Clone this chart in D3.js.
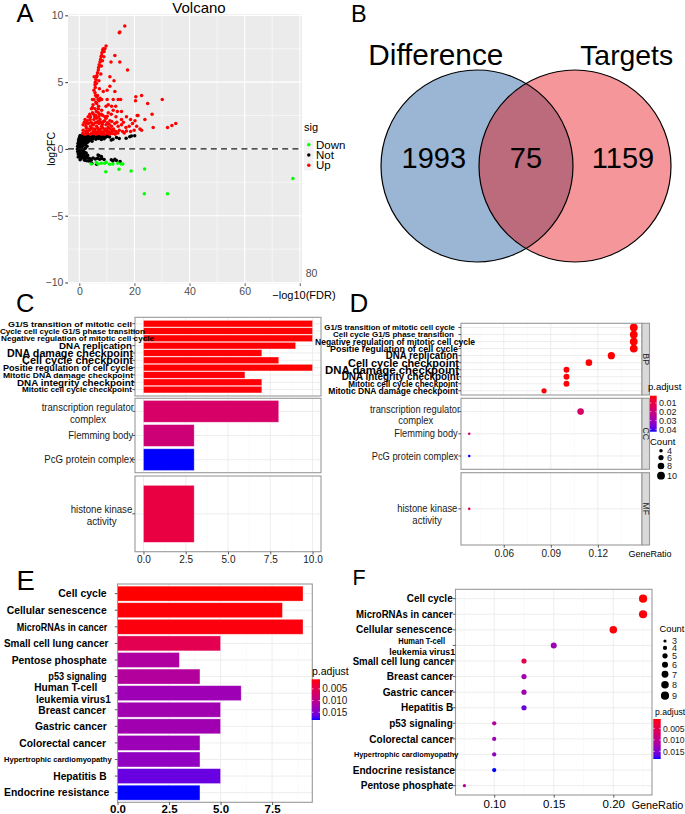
<!DOCTYPE html>
<html><head><meta charset="utf-8">
<script src="https://cdn.jsdelivr.net/npm/d3@7/dist/d3.min.js"></script>
<style>
html,body{margin:0;padding:0;background:#fff;}
svg{display:block;}
</style></head>
<body>
<svg id="fig" width="685" height="814" xmlns="http://www.w3.org/2000/svg"></svg>
<script>
// ================= DATA =================
// Panel A: volcano (x = -log10(FDR), y = log2FC)
const volcanoXTicks = [0, 20, 40, 60, 80];
const volcanoYTicks = [-10, -5, 0, 5, 10];
const sigLevels = ["Down", "Not", "Up"];
const volcanoUp = [
 [16.5,9.2],[14.5,8.7],[14.7,8.75],
 [9.7,7.7],[9.3,7.5],[8.7,7.5],[8.5,7.4],[8.2,7.2],[8.1,7.0],[7.9,6.9],[7.7,6.7],[7.5,6.5],[7.2,6.3],[7.0,6.1],[6.9,5.9],[6.6,5.7],[6.4,5.5],[6.3,5.4],[6.0,5.2],[5.8,5.0],[5.7,4.8],
 [12.9,7.0],[11.5,6.5],[14.7,6.5],[17.5,5.9],[11.1,5.4],[12.6,5.1],[5.4,5.4],[5.8,4.6],[5.3,4.4],[5.7,4.2],[6.3,3.9],
 [11.1,4.7],[10.1,4.4],[12.9,4.3],[8.7,4.3],[7.5,3.8],
 [4.8,3.7],[5.3,3.7],[6.3,3.4],[7.2,3.6],[8.1,3.7],[10.1,3.7],[12.3,3.7],[14.1,3.7],[15.0,3.7],
 [4.8,3.1],[5.7,3.0],[6.9,3.0],[8.1,2.9],[9.7,3.2],[10.5,3.3],[11.7,3.2],[13.2,3.2],
 [20.5,3.9],[22.6,4.0],[20.4,3.6],[24.8,3.4],[30.1,3.7],
 [4.8,2.7],[6.0,2.5],[6.9,2.7],[8.5,2.5],[9.3,2.4],[10.5,2.7],[12.3,2.9],[13.8,2.8],[15.3,2.8],
 [21.0,2.5],[26.4,2.6],[23.8,2.2],
 [2.1,2.2],[2.9,2.1],[3.9,2.2],[5.3,2.2],[6.3,2.3],[7.5,2.2],[9.7,2.3],[11.1,2.1],[13.3,2.4],[15.3,2.2],[17.1,2.4],[18.6,2.2],[20.2,2.1],
 [26.8,1.6],[32.0,1.6],[33.6,1.75],[35.0,1.9],
 [1.4,1.8],[2.4,1.7],[3.3,1.9],[4.1,1.7],[5.1,1.8],[6.3,1.7],[7.2,1.9],[8.1,1.7],[9.7,1.8],[10.5,1.6],[11.7,1.7],[12.9,1.9],[14.1,1.7],[15.3,1.8],[16.9,1.6],[18.1,1.7],[19.3,1.9],[20.8,1.7],[22.0,1.5],[22.6,1.4],
 [1.4,1.4],[2.4,1.3],[3.6,1.4],[4.5,1.2],[5.7,1.3],[6.9,1.4],[8.1,1.2],[9.3,1.35],[10.5,1.3],[12.1,1.4],[13.3,1.3],[14.5,1.4],[15.7,1.3],[17.1,1.35],[18.6,1.3],[19.9,1.4],
 [2.0,1.1],[3.0,1.15],[4.0,1.1],[5.0,1.15],[6.0,1.1],[7.0,1.15],[8.0,1.1],[9.0,1.1],[10.0,1.15],[11.0,1.1],[12.0,1.15],[13.0,1.1],[1.3,1.17],
 [2.6,1.55],[3.6,1.5],[4.6,1.55],[5.6,1.5],[6.6,1.55],[7.6,1.5],[8.6,1.55],[9.6,1.5],[11.2,1.5],[12.4,1.5],
 [1.8,2.0],[3.2,2.4],[4.2,2.0],[5.8,1.95],[6.8,2.05],[7.8,2.0],[8.8,2.05],[10.2,1.95],[11.8,2.05],
 [3.8,2.6],[4.4,3.0],[5.2,2.6],[6.2,2.8],[7.4,2.6],[5.0,3.3],[6.0,3.5],[7.0,3.2],[6.6,4.0],[7.3,4.5],[5.9,4.0],[6.8,3.7],
 [7.8,5.6],[8.0,6.2],[8.9,6.9],[9.0,7.3],[8.4,6.6],[6.2,4.9],[7.1,5.1],[21.3,2.5],
 [2.9,1.3],[4.0,1.45],[5.2,1.35],[6.4,1.25],[7.6,1.35],[8.8,1.3],[10.0,1.4],[11.4,1.25],[12.6,1.35],[14.0,1.2],[16.3,1.2],
 [2.5,1.9],[4.7,1.9],[6.5,2.0],[8.4,1.85],[9.2,2.1],[10.8,1.85],[13.6,2.0],[16.0,2.0],
 [4.1,2.4],[5.6,2.4],[7.1,2.4],[8.0,2.6],[10.1,2.45],[11.6,2.6]
];
const volcanoNot = [
 [0.3,1.0],[1.0,0.97],[1.5,0.9],[2.0,0.95],[2.5,0.88],[3.0,0.93],[3.5,0.97],[4.0,0.9],[4.5,0.95],[5.0,0.87],[5.5,0.93],[6.0,0.97],[6.5,0.9],[7.0,0.94],[7.5,0.88],[8.0,0.95],[8.5,0.9],[9.0,0.97],[9.5,0.88],[10.0,0.93],[10.5,0.97],[11.0,0.9],
 [11.6,0.67],[12.2,0.72],[13.5,0.85],[14.5,0.78],[17.0,0.8],[18.3,0.92],[18.9,0.97],[20.1,0.98],
 [0.2,0.8],[0.8,0.75],[1.4,0.8],[2.0,0.7],[2.6,0.78],[3.2,0.72],[3.8,0.8],[4.4,0.7],[5.0,0.77],[6.0,0.72],[7.0,0.78],[8.0,0.7],[9.0,0.76],
 [-0.3,0.6],[0.1,0.62],[0.6,0.55],[1.2,0.6],[1.8,0.52],[2.5,0.58],[-0.5,0.4],[0.0,0.42],[0.6,0.38],[1.3,0.45],
 [-0.6,0.2],[-0.1,0.25],[0.5,0.18],[1.2,0.22],[-0.7,0.0],[-0.2,0.05],[0.4,-0.02],[1.0,0.03],
 [-0.6,-0.2],[-0.1,-0.15],[0.5,-0.22],[1.1,-0.18],[-0.4,-0.38],[0.2,-0.35],[0.8,-0.42],[1.5,-0.38],
 [0.0,-0.55],[0.7,-0.5],[1.4,-0.58],[2.1,-0.52],[0.6,-0.7],[1.3,-0.68],[2.0,-0.72],[2.8,-0.65],[3.5,-0.7],[4.2,-0.75],[5.0,-0.68],[5.8,-0.75],[6.6,-0.7],[7.4,-0.78],[8.2,-0.72],[9.0,-0.8],
 [1.9,-0.85],[2.7,-0.88],[3.5,-0.9],[4.3,-0.85],[6.8,-0.45],[7.2,-0.52],[8.0,-0.57],[4.5,-1.07],[6.3,-1.15],
 [11.6,-0.82],[12.2,-0.9],[12.9,-0.77],[13.5,-0.87],[14.8,-0.95],
 [1.8,0.3],[2.2,0.05],[1.9,-0.25],[2.4,0.4],[1.7,0.68],[3.0,0.5],[2.5,-0.3],[3.0,-0.48],[3.6,0.62],[4.6,0.58],[1.6,-0.05],[2.8,0.2],[0.1,0.9],[-0.2,0.75],[-0.4,-0.6],[0.3,-0.82]
];
const volcanoDown = [
 [4.35,-1.12],[6.2,-1.02],[6.8,-1.12],[8.0,-1.07],[9.2,-1.07],[9.8,-1.0],[9.6,-1.7],[11.0,-1.15],[12.2,-1.12],
 [14.0,-1.07],[15.2,-1.12],[15.8,-1.12],[14.4,-1.52],[18.8,-1.65],[23.7,-1.5],[23.6,-3.35],[32.0,-3.35],[77.5,-2.22]
];

// Panel B: Venn
const vennSetNames = ["Difference", "Targets"];
const vennCounts = [1993, 75, 1159]; // only-left, both, only-right

// Panel C: GO bar chart
const goBarTerms = ["G1/S transition of mitotic cell","Cycle cell cycle G1/S phase transition","Negative regulation of mitotic cell cycle","DNA replication","DNA damage checkpoint","Cell cycle checkpoint","Positie regulation of cell cycle","Mitotic DNA damage checkpoint","DNA integrity checkpoint","Mitotic cell cycle checkpoint","transcription regulator\ncomplex","Flemming body","PcG protein complex","histone kinase\nactivity"];
const goBarOnt = ["BP","BP","BP","BP","BP","BP","BP","BP","BP","BP","CC","CC","CC","MF"];
const goBarCount = [10,10,10,9,7,8,10,6,7,7,8,3,3,3];
const goBarPadj = [0.0017,0.0017,0.0018,0.0019,0.0021,0.0020,0.0018,0.0023,0.0021,0.0022,0.0161,0.0190,0.0427,0.0099];
const goBarTicks = [0, 2.5, 5, 7.5, 10];

// Panel D: GO dot plot
const goDotTerms = ["G1/S transition of mitotic cell cycle","Cell cycle G1/S phase transition","Negative regulation of mitotic cell cycle","Positie regulation of cell cycle","DNA replication","Cell cycle checkpoint","DNA damage checkpoint","DNA integrity checkpoint","Mitotic cell cycle checkpoint","Mitotic DNA damage checkpoint","transcription regulator\ncomplex","Flemming body","PcG protein complex","histone kinase\nactivity"];
const goDotOnt = ["BP","BP","BP","BP","BP","BP","BP","BP","BP","BP","CC","CC","CC","MF"];
const goDotRatio = [0.1429,0.1429,0.1429,0.1429,0.1286,0.1143,0.1,0.1,0.1,0.0857,0.109,0.038,0.038,0.038];
const goDotCount = [10,10,10,10,9,8,7,7,7,6,8,3,3,3];
const goDotPadj = [0.0017,0.0017,0.0018,0.0018,0.0019,0.0020,0.0021,0.0021,0.0022,0.0023,0.0161,0.0190,0.0427,0.0099];
const goDotTicks = [0.06, 0.09, 0.12];
const goPadjLegendTicks = [0.01, 0.02, 0.03, 0.04];
const goCountLegend = [4, 6, 8, 10];

// Panel E: KEGG bar chart
const keggBarTerms = ["Cell cycle","Cellular senescence","MicroRNAs in cancer","Small cell lung cancer","Pentose phosphate","p53 signaling","Human T-cell\nleukemia virus1","Breast cancer","Gastric cancer","Colorectal cancer","Hypertrophic cardiomyopathy","Hepatitis B","Endocrine resistance"];
const keggBarCount = [9,8,9,5,3,4,6,5,5,4,4,5,4];
const keggBarPadj = [0.0009,0.0011,0.0013,0.0053,0.0114,0.0111,0.0130,0.0127,0.0127,0.0131,0.0139,0.0162,0.0183];
const keggBarTicks = [0, 2.5, 5, 7.5];

// Panel F: KEGG dot plot
const keggDotTerms = ["Cell cycle","MicroRNAs in cancer","Cellular senescence","Human T-cell\nleukemia virus1","Small cell lung cancer","Breast cancer","Gastric cancer","Hepatitis B","p53 signaling","Colorectal cancer","Hypertrophic cardiomyopathy","Endocrine resistance","Pentose phosphate"];
const keggDotRatio = [0.225,0.225,0.2,0.15,0.125,0.125,0.125,0.125,0.1,0.1,0.1,0.1,0.075];
const keggDotCount = [9,9,8,6,5,5,5,5,4,4,4,4,3];
const keggDotPadj = [0.0009,0.0013,0.0011,0.0130,0.0053,0.0127,0.0127,0.0162,0.0111,0.0131,0.0139,0.0183,0.0114];
const keggDotTicks = [0.10, 0.15, 0.20];
const keggPadjLegendTicks = [0.005, 0.010, 0.015];
const keggCountLegend = [3, 4, 5, 6, 7, 8, 9];

// ================= STYLE / LAYOUT =================
const FONT = "'Liberation Sans', Arial, Helvetica, sans-serif";
const GRID = "#EBEBEB", GRIDMINOR = "#F4F4F4", BORDER = "#999999";
const svg = d3.select("#fig").attr("font-family", FONT);
const defs = svg.append("defs");

// label appearance (font size, bold, horizontal extent per line, per-line offsets)
const cLabelStyle = {
 "G1/S transition of mitotic cell": {fs:8, w:1, ext:[[8,132]]},
 "Cycle cell cycle G1/S phase transition": {fs:7.5, w:1, ext:[[0,145]]},
 "Negative regulation of mitotic cell cycle": {fs:7.5, w:1, ext:[[1,154]]},
 "DNA replication": {fs:9.8, w:1, ext:[[59,132]]},
 "DNA damage checkpoint": {fs:10.3, w:1, ext:[[7,133]]},
 "Cell cycle checkpoint": {fs:10.3, w:1, ext:[[22,133]]},
 "Positie regulation of cell cycle": {fs:8.3, w:1, ext:[[3,133]]},
 "Mitotic DNA damage checkpoint": {fs:8, w:1, ext:[[3,133]]},
 "DNA integrity checkpoint": {fs:9.8, w:1, ext:[[17,134]]},
 "Mitotic cell cycle checkpoint": {fs:7.5, w:1, ext:[[22,132]]},
 "transcription regulator\ncomplex": {fs:10, w:0, ext:[[41.7,134],[70,106]], dy:[-3.6,7.7]},
 "Flemming body": {fs:10, w:0, ext:[[68.3,133.3]]},
 "PcG protein complex": {fs:10, w:0, ext:[[44.3,134]]},
 "histone kinase\nactivity": {fs:10, w:0, ext:[[70.7,132.3],[86.7,116.7]], dy:[-4.5,7.2]}
};
const dLabelStyle = {
 "G1/S transition of mitotic cell cycle": {fs:8, w:1, ext:[[324.3,455]]},
 "Cell cycle G1/S phase transition": {fs:8, w:1, ext:[[333,454]]},
 "Negative regulation of mitotic cell cycle": {fs:8.3, w:1, ext:[[315,475]]},
 "Positie regulation of cell cycle": {fs:9.2, w:1, ext:[[330,458]]},
 "DNA replication": {fs:10, w:1, ext:[[385.7,458]]},
 "Cell cycle checkpoint": {fs:10.8, w:1, ext:[[348,459]]},
 "DNA damage checkpoint": {fs:10.8, w:1, ext:[[325,459]]},
 "DNA integrity checkpoint": {fs:10.3, w:1, ext:[[341.7,459]]},
 "Mitotic cell cycle checkpoint": {fs:8.3, w:1, ext:[[348.3,458]]},
 "Mitotic DNA damage checkpoint": {fs:8.6, w:1, ext:[[328.3,458]]},
 "transcription regulator\ncomplex": {fs:10, w:0, ext:[[370,460],[398.3,433.3]], dy:[-2.7,8.3]},
 "Flemming body": {fs:10, w:0, ext:[[394.3,457.7]]},
 "PcG protein complex": {fs:10, w:0, ext:[[371.7,458.3]]},
 "histone kinase\nactivity": {fs:10, w:0, ext:[[397.3,457.3],[412.3,441.7]], dy:[0,12]}
};
const eLabelStyle = {
 "Cell cycle": {fs:10.5, w:1, ext:[[58.3,106.7]]},
 "Cellular senescence": {fs:10.5, w:1, ext:[[6.7,106.7]]},
 "MicroRNAs in cancer": {fs:10.5, w:1, ext:[[16.7,107.3]]},
 "Small cell lung cancer": {fs:10.5, w:1, ext:[[4,108.3]]},
 "Pentose phosphate": {fs:10.5, w:1, ext:[[11.7,106.7]]},
 "p53 signaling": {fs:10.5, w:1, ext:[[48.3,106.7]]},
 "Human T-cell\nleukemia virus1": {fs:10.5, w:1, ext:[[34.3,97.3],[36,110.7]], dy:[-5.7,6]},
 "Breast cancer": {fs:10.5, w:1, ext:[[38.3,106]]},
 "Gastric cancer": {fs:10.5, w:1, ext:[[35,106.7]]},
 "Colorectal cancer": {fs:10.5, w:1, ext:[[19.3,106]]},
 "Hypertrophic cardiomyopathy": {fs:8, w:1, ext:[[4,111.7]]},
 "Hepatitis B": {fs:10.5, w:1, ext:[[53.3,106.7]]},
 "Endocrine resistance": {fs:10.5, w:1, ext:[[4,109.3]]}
};
const fLabelStyle = {
 "Cell cycle": {fs:10, w:1, ext:[[406.7,452.7]]},
 "MicroRNAs in cancer": {fs:10, w:1, ext:[[356,452.7]]},
 "Cellular senescence": {fs:10, w:1, ext:[[356,452.7]]},
 "Human T-cell\nleukemia virus1": {fs:8.8, w:1, ext:[[398.3,445],[389.3,455]], dy:[-4.3,6.3]},
 "Small cell lung cancer": {fs:10, w:1, ext:[[352.7,454]]},
 "Breast cancer": {fs:10, w:1, ext:[[386.7,453.3]]},
 "Gastric cancer": {fs:10, w:1, ext:[[382.7,453.3]]},
 "Hepatitis B": {fs:10, w:1, ext:[[401,453.3]]},
 "p53 signaling": {fs:10, w:1, ext:[[389.3,452.7]]},
 "Colorectal cancer": {fs:10, w:1, ext:[[369.3,453.3]]},
 "Hypertrophic cardiomyopathy": {fs:7.5, w:1, ext:[[354,458.3]]},
 "Endocrine resistance": {fs:10, w:1, ext:[[352.7,455]]},
 "Pentose phosphate": {fs:10, w:1, ext:[[360.7,453.3]]}
};

// ================= HELPERS =================
function letter(t, x, y, fs) {
  svg.append("text").attr("x", x).attr("y", y).attr("font-size", fs).attr("fill", "#000").text(t);
}
function minorTicks(ticks, domain) {
  const step = ticks[1] - ticks[0];
  const all = [ticks[0] - step / 2, ...d3.pairs(ticks).map(([a, b]) => (a + b) / 2), ticks[ticks.length - 1] + step / 2];
  const [lo, hi] = [Math.min(...domain), Math.max(...domain)];
  return all.filter(v => v > lo && v < hi);
}
function vGrid(g, x, ticks, t, b, major, minor, wMaj, wMin) {
  minorTicks(ticks, x.domain()).forEach(v => g.append("line").attr("x1", x(v)).attr("x2", x(v)).attr("y1", t).attr("y2", b).attr("stroke", minor).attr("stroke-width", wMin));
  ticks.filter(v => v >= x.domain()[0] && v <= x.domain()[1]).forEach(v => g.append("line").attr("x1", x(v)).attr("x2", x(v)).attr("y1", t).attr("y2", b).attr("stroke", major).attr("stroke-width", wMaj));
}
function yLabels(g, terms, posFn, styles) {
  terms.forEach(t => {
    const st = styles[t];
    t.split("\n").forEach((ln, i) => {
      const [x0, x1] = st.ext[i];
      g.append("text").attr("x", x0).attr("y", posFn(t) + (st.dy ? st.dy[i] : 0)).attr("dy", "0.36em")
        .attr("font-size", st.fs).attr("font-weight", st.w ? "bold" : "normal")
        .attr("fill", st.w ? "#000" : "#1a1a1a")
        .attr("textLength", x1 - x0).attr("lengthAdjust", "spacingAndGlyphs").text(ln);
    });
  });
}
function yTicks(g, terms, posFn, x) {
  terms.forEach(t => g.append("line").attr("x1", x - 2.7).attr("x2", x).attr("y1", posFn(t)).attr("y2", posFn(t)).attr("stroke", "#333").attr("stroke-width", 0.8));
}
function bottomAxis(g, x, ticks, yPos, fmt, fs, weight, color, pad) {
  const ax = g.append("g").attr("transform", `translate(0,${yPos})`)
    .call(d3.axisBottom(x).tickValues(ticks).tickFormat(fmt).tickSize(2.7).tickPadding(pad === undefined ? 2 : pad));
  ax.select(".domain").remove();
  ax.attr("font-family", FONT).attr("font-size", fs);
  ax.selectAll("line").attr("stroke", "#333").attr("stroke-width", 0.8);
  ax.selectAll("text").attr("fill", color).attr("font-weight", weight);
  return ax;
}
function colorbar(id, scale, x, w, y0, y1, ticks, fmt, fs) {
  const grad = defs.append("linearGradient").attr("id", id).attr("x1", 0).attr("y1", 0).attr("x2", 0).attr("y2", 1);
  const [d0, d1] = scale.domain();
  d3.range(0, 1.0001, 0.05).forEach(t => grad.append("stop").attr("offset", t).attr("stop-color", scale(d0 + t * (d1 - d0))));
  svg.append("rect").attr("x", x).attr("y", y0).attr("width", w).attr("height", y1 - y0).attr("fill", `url(#${id})`);
  const s = d3.scaleLinear().domain([d0, d1]).range([y0, y1]);
  ticks.forEach(v => {
    svg.append("line").attr("x1", x).attr("x2", x + w * 0.2).attr("y1", s(v)).attr("y2", s(v)).attr("stroke", "#fff").attr("stroke-width", 0.6);
    svg.append("line").attr("x1", x + w * 0.8).attr("x2", x + w).attr("y1", s(v)).attr("y2", s(v)).attr("stroke", "#fff").attr("stroke-width", 0.6);
    svg.append("text").attr("x", x + w + 2.3).attr("y", s(v)).attr("dy", "0.36em").attr("font-size", fs).attr("fill", "#1a1a1a").text(fmt(v));
  });
}
function sizeLegend(values, rScale, x, yStart, gap, labelX, fs) {
  let y = yStart, prevR = null;
  values.forEach(v => {
    const r = rScale(v);
    if (prevR !== null) y += prevR + r + gap;
    svg.append("circle").attr("cx", x).attr("cy", y).attr("r", r).attr("fill", "#000");
    svg.append("text").attr("x", labelX).attr("y", y).attr("dy", "0.36em").attr("font-size", fs).attr("fill", "#1a1a1a").text(v);
    prevR = r;
  });
}

// ================= PANEL A : Volcano =================
(function () {
  const A = {l: 68, r: 302, t: 14, b: 283.3};
  const x = d3.scaleLinear().domain([-4.1, 80.8]).range([A.l, A.r]);
  const y = d3.scaleLinear().domain([-10.06, 10.1]).range([A.b, A.t]);
  const g = svg.append("g");
  g.append("rect").attr("x", A.l).attr("y", A.t).attr("width", A.r - A.l).attr("height", A.b - A.t).attr("fill", "#EBEBEB");
  vGrid(g, x, volcanoXTicks, A.t, A.b, "#fff", "#fff", 1.1, 0.55);
  minorTicks(volcanoYTicks, y.domain()).forEach(v => g.append("line").attr("x1", A.l).attr("x2", A.r).attr("y1", y(v)).attr("y2", y(v)).attr("stroke", "#fff").attr("stroke-width", 0.55));
  volcanoYTicks.forEach(v => g.append("line").attr("x1", A.l).attr("x2", A.r).attr("y1", y(v)).attr("y2", y(v)).attr("stroke", "#fff").attr("stroke-width", 1.1));

  const sets = [[volcanoNot, "#000000"], [volcanoUp, "#FF0000"], [volcanoDown, "#00FF00"]];
  sets.forEach(([data, col]) => {
    g.append("g").selectAll("circle").data(data).join("circle")
      .attr("cx", d => x(d[0])).attr("cy", d => y(d[1])).attr("r", 1.75).attr("fill", col);
  });
  g.append("line").attr("x1", A.l).attr("x2", A.r).attr("y1", y(0)).attr("y2", y(0))
    .attr("stroke", "#1a1a1a").attr("stroke-width", 1.3).attr("stroke-dasharray", "6,4.2");

  const ya = g.append("g").attr("transform", `translate(${A.l},0)`)
    .call(d3.axisLeft(y).tickValues(volcanoYTicks).tickSize(2.7).tickPadding(2));
  ya.select(".domain").remove();
  ya.attr("font-family", FONT).attr("font-size", 10.5);
  ya.selectAll("text").attr("fill", "#4D4D4D");
  ya.selectAll("line").attr("stroke", "#333");
  bottomAxis(g, x, volcanoXTicks, A.b, d => d === 80 ? "" : d, 10.5, "normal", "#4D4D4D");
  g.append("text").attr("x", x(80) + 11.7).attr("y", A.b - 10.3).attr("dy", "0.36em").attr("text-anchor", "middle")
    .attr("font-size", 10.5).attr("fill", "#4D4D4D").text(volcanoXTicks[volcanoXTicks.length - 1]);

  g.append("text").attr("x", 304).attr("y", 299).attr("text-anchor", "middle").attr("font-size", 11).attr("fill", "#000").text("\u2212log10(FDR)");
  g.append("text").attr("transform", `translate(51.5,${y(0)}) rotate(-90)`).attr("dy", "0.36em").attr("text-anchor", "middle")
    .attr("font-size", 10.5).attr("fill", "#000").text("log2FC");
  g.append("text").attr("x", 199).attr("y", 12.5).attr("text-anchor", "middle").attr("font-size", 15).attr("fill", "#000").text("Volcano");

  // legend
  g.append("text").attr("x", 304).attr("y", 131).attr("font-size", 11).attr("fill", "#000").text("sig");
  const legCols = {Down: "#00FF00", Not: "#000000", Up: "#FF0000"};
  sigLevels.forEach((s, i) => {
    const yc = 144.7 + i * 10.3;
    g.append("rect").attr("x", 304).attr("y", yc - 5.15).attr("width", 9.5).attr("height", 10.3).attr("fill", "#F2F2F2");
    g.append("circle").attr("cx", 308.8).attr("cy", yc).attr("r", 1.75).attr("fill", legCols[s]);
    g.append("text").attr("x", 316).attr("y", yc).attr("dy", "0.36em").attr("font-size", 11.5).attr("fill", "#000").text(s);
  });
})();

// ================= PANEL B : Venn =================
(function () {
  const V = {cx: 526, cy: 166, r: 96, d: 49};
  const cL = V.cx - V.d, cR = V.cx + V.d;
  const g = svg.append("g");
  defs.append("clipPath").attr("id", "clipL").append("circle").attr("cx", cL).attr("cy", V.cy).attr("r", V.r);
  g.append("circle").attr("cx", cL).attr("cy", V.cy).attr("r", V.r).attr("fill", "#9AB6D4");
  g.append("circle").attr("cx", cR).attr("cy", V.cy).attr("r", V.r).attr("fill", "#F5979A");
  g.append("circle").attr("cx", cR).attr("cy", V.cy).attr("r", V.r).attr("fill", "#BC6B7C").attr("clip-path", "url(#clipL)");
  [cL, cR].forEach(c => g.append("circle").attr("cx", c).attr("cy", V.cy).attr("r", V.r).attr("fill", "none").attr("stroke", "#000").attr("stroke-width", 1.2));
  g.append("text").attr("x", cL - 41.2).attr("y", 65).attr("text-anchor", "middle").attr("font-size", 29)
    .attr("textLength", 135).attr("lengthAdjust", "spacingAndGlyphs").attr("fill", "#000").text(vennSetNames[0]);
  g.append("text").attr("x", cR + 51.7).attr("y", 65).attr("text-anchor", "middle").attr("font-size", 28)
    .attr("textLength", 93).attr("lengthAdjust", "spacingAndGlyphs").attr("fill", "#000").text(vennSetNames[1]);
  const numX = [cL - V.r * 0.45, V.cx, cR + V.r * 0.5];
  vennCounts.forEach((v, i) => g.append("text").attr("x", numX[i]).attr("y", 168.3).attr("text-anchor", "middle")
    .attr("font-size", 29).attr("fill", "#000").text(v));
})();

// ================= PANEL C : GO bar =================
const goColor = d3.scaleLinear().domain(d3.extent(goBarPadj)).range(["#ff0000", "#0000ff"]).interpolate(d3.interpolateLab);
(function () {
  const C = {l: 135, r: 321};
  const facets = [{ont: "BP", t: 317.3, b: 396, po: 0.42}, {ont: "CC", t: 398.3, b: 472.7, po: 0.09}, {ont: "MF", t: 476, b: 551.7, po: 0.148}];
  const mx = d3.max(goBarCount);
  const x = d3.scaleLinear().domain([-0.05 * mx, 1.05 * mx]).range([C.l, C.r]);
  const g = svg.append("g");
  const pos = {};
  facets.forEach(f => {
    const idx = goBarTerms.map((d, i) => i).filter(i => goBarOnt[i] === f.ont);
    const terms = idx.map(i => goBarTerms[i]);
    const y = d3.scaleBand().domain(terms).range([f.t, f.b]).paddingInner(0.1).paddingOuter(f.po);
    g.append("rect").attr("x", C.l).attr("y", f.t).attr("width", C.r - C.l).attr("height", f.b - f.t).attr("fill", "#fff");
    vGrid(g, x, goBarTicks, f.t, f.b, GRID, GRIDMINOR, 0.9, 0.5);
    terms.forEach(t => { pos[t] = y(t) + y.bandwidth() / 2; g.append("line").attr("x1", C.l).attr("x2", C.r).attr("y1", pos[t]).attr("y2", pos[t]).attr("stroke", GRID).attr("stroke-width", 0.9); });
    idx.forEach(i => g.append("rect").attr("x", x(0)).attr("y", y(goBarTerms[i])).attr("width", x(goBarCount[i]) - x(0))
      .attr("height", y.bandwidth()).attr("fill", goColor(goBarPadj[i])).attr("stroke", "#fff").attr("stroke-opacity", 0.45).attr("stroke-width", 0.7));
    g.append("rect").attr("x", C.l).attr("y", f.t).attr("width", C.r - C.l).attr("height", f.b - f.t).attr("fill", "none").attr("stroke", BORDER).attr("stroke-width", 1.1);
  });
  yTicks(g, goBarTerms, t => pos[t], C.l);
  yLabels(g, goBarTerms, t => pos[t], cLabelStyle);
  bottomAxis(g, x, goBarTicks, 551.7, d3.format(".1f"), 10, "normal", "#1a1a1a");
})();

// ================= PANEL D : GO dot =================
(function () {
  const D = {l: 461, r: 642, sr: 649.5};
  const facets = [{ont: "BP", t: 323.3, b: 395}, {ont: "CC", t: 398.3, b: 469.3}, {ont: "MF", t: 472.7, b: 545}];
  const [lo, hi] = d3.extent(goDotRatio); const ex = (hi - lo) * 0.05;
  const x = d3.scaleLinear().domain([lo - ex, hi + ex]).range([D.l, D.r]);
  const r = d3.scaleSqrt().domain(d3.extent(goDotCount)).range([1.3, 3.9]);
  const color = d3.scaleLinear().domain(d3.extent(goDotPadj)).range(["#ff0000", "#0000ff"]).interpolate(d3.interpolateLab);
  const g = svg.append("g");
  const pos = {};
  facets.forEach(f => {
    const idx = goDotTerms.map((d, i) => i).filter(i => goDotOnt[i] === f.ont);
    const terms = idx.map(i => goDotTerms[i]);
    const y = d3.scalePoint().domain(terms).range([f.t, f.b]).padding(0.6);
    g.append("rect").attr("x", D.l).attr("y", f.t).attr("width", D.r - D.l).attr("height", f.b - f.t).attr("fill", "#fff");
    vGrid(g, x, goDotTicks, f.t, f.b, GRID, GRIDMINOR, 0.9, 0.5);
    terms.forEach(t => { pos[t] = y(t); g.append("line").attr("x1", D.l).attr("x2", D.r).attr("y1", pos[t]).attr("y2", pos[t]).attr("stroke", GRID).attr("stroke-width", 0.9); });
    idx.forEach(i => g.append("circle").attr("cx", x(goDotRatio[i])).attr("cy", y(goDotTerms[i])).attr("r", r(goDotCount[i])).attr("fill", color(goDotPadj[i])));
    g.append("rect").attr("x", D.l).attr("y", f.t).attr("width", D.r - D.l).attr("height", f.b - f.t).attr("fill", "none").attr("stroke", BORDER).attr("stroke-width", 1.1);
    g.append("rect").attr("x", D.r).attr("y", f.t).attr("width", D.sr - D.r).attr("height", f.b - f.t).attr("fill", "#D9D9D9").attr("stroke", BORDER).attr("stroke-width", 1.1);
    g.append("text").attr("transform", `translate(${(D.r + D.sr) / 2},${(f.t + f.b) / 2}) rotate(90)`).attr("text-anchor", "middle").attr("dy", "0.36em")
      .attr("font-size", 8.8).attr("fill", "#1a1a1a").text(f.ont);
  });
  yTicks(g, goDotTerms, t => pos[t], D.l);
  yLabels(g, goDotTerms, t => pos[t], dLabelStyle);
  bottomAxis(g, x, goDotTicks, 545, d3.format(".2f"), 10, "normal", "#1a1a1a");
  g.append("text").attr("x", 650).attr("y", 557).attr("text-anchor", "middle").attr("font-size", 9).attr("fill", "#000").text("GeneRatio");

  // legends
  svg.append("text").attr("x", 648).attr("y", 390).attr("font-size", 9.5).attr("fill", "#000").text("p.adjust");
  colorbar("gradGO", color, 650, 6.7, 395.7, 431.7, goPadjLegendTicks, d3.format(".2f"), 9);
  svg.append("text").attr("x", 650).attr("y", 445).attr("font-size", 9.5).attr("fill", "#000").text("Count");
  sizeLegend(goCountLegend, r, 661, 450.7, 2.5, 667, 9);
})();

// ================= PANEL E : KEGG bar =================
const keggColor = d3.scaleLinear().domain(d3.extent(keggBarPadj)).range(["#ff0000", "#0000ff"]).interpolate(d3.interpolateLab);
(function () {
  const E = {l: 117.5, r: 312.3, t: 584, b: 802.3};
  const x = d3.scaleLinear().domain([0, d3.max(keggBarCount) * 1.05]).range([E.l, E.r]);
  const y = d3.scaleBand().domain(keggBarTerms).range([E.t, E.b]).paddingInner(0.1).paddingOuter(0.13);
  const pos = t => y(t) + y.bandwidth() / 2;
  const g = svg.append("g");
  g.append("rect").attr("x", E.l).attr("y", E.t).attr("width", E.r - E.l).attr("height", E.b - E.t).attr("fill", "#fff");
  vGrid(g, x, keggBarTicks, E.t, E.b, GRID, GRIDMINOR, 0.9, 0.5);
  keggBarTerms.forEach(t => g.append("line").attr("x1", E.l).attr("x2", E.r).attr("y1", pos(t)).attr("y2", pos(t)).attr("stroke", GRID).attr("stroke-width", 0.9));
  g.selectAll("rect.bar").data(keggBarTerms).join("rect").attr("class", "bar")
    .attr("x", x(0)).attr("y", t => y(t)).attr("width", (t, i) => x(keggBarCount[i]) - x(0)).attr("height", y.bandwidth())
    .attr("fill", (t, i) => keggColor(keggBarPadj[i])).attr("stroke", "#fff").attr("stroke-opacity", 0.45).attr("stroke-width", 0.7);
  g.append("rect").attr("x", E.l).attr("y", E.t).attr("width", E.r - E.l).attr("height", E.b - E.t).attr("fill", "none").attr("stroke", BORDER).attr("stroke-width", 1.1);
  yTicks(g, keggBarTerms, pos, E.l);
  yLabels(g, keggBarTerms, pos, eLabelStyle);
  bottomAxis(g, x, keggBarTicks, E.b, d3.format(".1f"), 11.5, "bold", "#000", 0);
  svg.append("text").attr("x", 312).attr("y", 675).attr("font-size", 10.5).attr("fill", "#000").text("p.adjust");
  colorbar("gradKEGG_E", keggColor, 311.7, 8.3, 679.3, 720, keggPadjLegendTicks, d3.format(".3f"), 10);
})();

// ================= PANEL F : KEGG dot =================
(function () {
  const F = {l: 455.5, r: 652, t: 589.3, b: 795};
  const [lo, hi] = d3.extent(keggDotRatio); const ex = (hi - lo) * 0.05;
  const x = d3.scaleLinear().domain([lo - ex, hi + ex]).range([F.l, F.r]);
  const y = d3.scalePoint().domain(keggDotTerms).range([F.t, F.b]).padding(0.6);
  const r = d3.scaleSqrt().domain(d3.extent(keggDotCount)).range([1.6, 4.1]);
  const color = d3.scaleLinear().domain(d3.extent(keggDotPadj)).range(["#ff0000", "#0000ff"]).interpolate(d3.interpolateLab);
  const g = svg.append("g");
  g.append("rect").attr("x", F.l).attr("y", F.t).attr("width", F.r - F.l).attr("height", F.b - F.t).attr("fill", "#fff");
  vGrid(g, x, keggDotTicks, F.t, F.b, GRID, GRIDMINOR, 0.9, 0.5);
  keggDotTerms.forEach(t => g.append("line").attr("x1", F.l).attr("x2", F.r).attr("y1", y(t)).attr("y2", y(t)).attr("stroke", GRID).attr("stroke-width", 0.9));
  g.selectAll("circle.pt").data(keggDotTerms).join("circle").attr("class", "pt")
    .attr("cx", (t, i) => x(keggDotRatio[i])).attr("cy", t => y(t)).attr("r", (t, i) => r(keggDotCount[i]))
    .attr("fill", (t, i) => color(keggDotPadj[i]));
  g.append("rect").attr("x", F.l).attr("y", F.t).attr("width", F.r - F.l).attr("height", F.b - F.t).attr("fill", "none").attr("stroke", BORDER).attr("stroke-width", 1.1);
  yTicks(g, keggDotTerms, y, F.l);
  yLabels(g, keggDotTerms, y, fLabelStyle);
  bottomAxis(g, x, keggDotTicks, F.b, d3.format(".2f"), 11.5, "normal", "#000");
  g.append("text").attr("x", 657.5).attr("y", 808.5).attr("text-anchor", "middle").attr("font-size", 10.8).attr("fill", "#000").text("GeneRatio");

  svg.append("text").attr("x", 659.5).attr("y", 631.5).attr("font-size", 9.3).attr("fill", "#000").text("Count");
  sizeLegend(keggCountLegend, r, 665, 641, 3.2, 672, 9);
  svg.append("text").attr("x", 655).attr("y", 714.5).attr("font-size", 8.6).attr("fill", "#000").text("p.adjust");
  colorbar("gradKEGG_F", color, 653.3, 7.4, 719, 759, keggPadjLegendTicks, d3.format(".3f"), 8.6);
})();

// ================= PANEL LETTERS =================
letter("A", 16.5, 21.7, 25.5);
letter("B", 351, 21.7, 23.5);
letter("C", 16, 312, 25.5);
letter("D", 349.5, 312, 26);
letter("E", 16.5, 590, 27.5);
letter("F", 352.5, 585, 21.5);
</script>
</body></html>
